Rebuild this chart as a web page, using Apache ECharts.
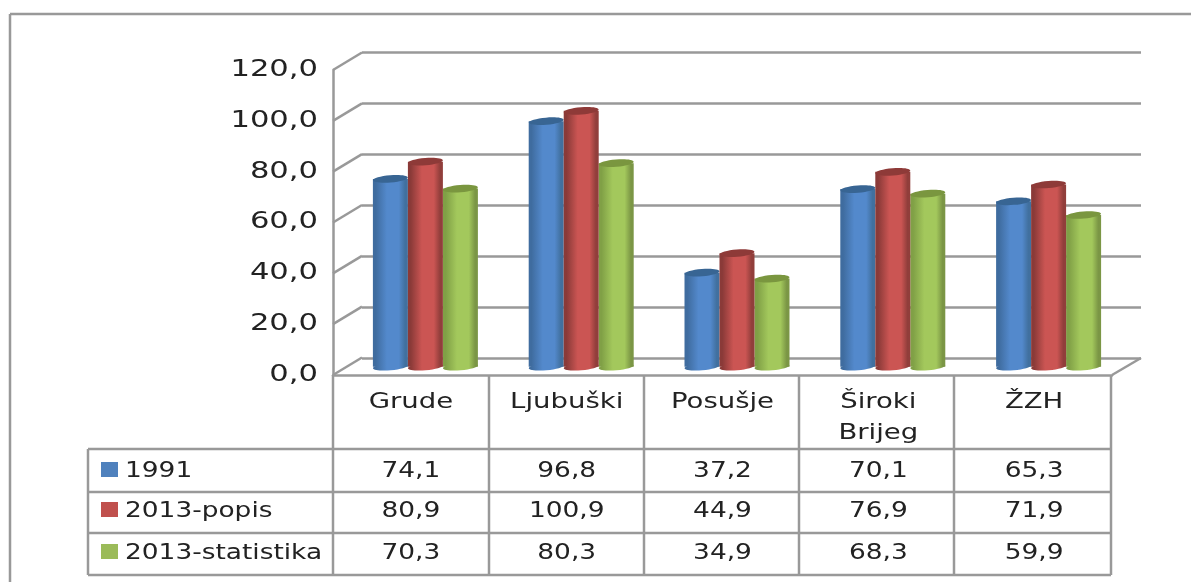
<!DOCTYPE html>
<html><head><meta charset="utf-8">
<style>html,body{margin:0;padding:0;background:#fff}#c{width:1191px;height:582px}</style>
<script src="https://cdn.jsdelivr.net/npm/echarts@6/dist/echarts.min.js"></script>
</head><body><div id="c"></div>
<script>
const categories = ['Grude','Ljubuški','Posušje','Široki\nBrijeg','ŽZH'];
const seriesNames = ['1991','2013-popis','2013-statistika'];
const v1991 = [74.1,96.8,37.2,70.1,65.3];
const vPopis = [80.9,100.9,44.9,76.9,71.9];
const vStat = [70.3,80.3,34.9,68.3,59.9];
const yTicks = [0,20,40,60,80,100,120];
const allValues = [v1991,vPopis,vStat];
const swatch = ['#4F81BD','#C0504D','#9BBB59'];
const palettes = [
  {edge:'#3f6c9f',mid:'#5389cc',right:'#41709f',top:'#386593'},
  {edge:'#8a3a38',mid:'#cb5553',right:'#913e3b',top:'#8e3a38'},
  {edge:'#80a046',mid:'#a3c85c',right:'#7b9645',top:'#7a963f'}
];
const LINE='#999999', TXT='#222', FONT='DejaVu Sans';
const DX=29, DY=-17.5, BW=35, RY=3.6, LW=2.5;
const rowY=[471,511,553];
const SX=1.2, F22='22px "DejaVu Sans"';
const fmt=v=>v.toFixed(1).replace('.',',');
const chart=echarts.init(document.getElementById('c'),null,{renderer:'canvas'});

function cyl(k){
  return function(params,api){
    const p=api.coord([api.value(0),api.value(1)]);
    const b=api.coord([api.value(0),0]);
    const cx=p[0]+DX/2+(k-1)*BW, top=p[1]+DY/2+1, bot=b[1]+DY/2+0.5;
    const c=palettes[k];
    const grad={type:'linear',x:0,y:0,x2:1,y2:0,colorStops:[
      {offset:0,color:c.edge},{offset:.08,color:c.edge},{offset:.4,color:c.mid},{offset:.74,color:c.mid},{offset:.92,color:c.right},{offset:1,color:c.right}]};
    return {type:'group',children:[
      {type:'ellipse',x:cx,y:bot,rotation:.08,shape:{cx:0,cy:0,rx:BW/2,ry:RY},style:{fill:grad}},
      {type:'rect',shape:{x:cx-BW/2,y:top,width:BW,height:bot-top},style:{fill:grad}},
      {type:'ellipse',x:cx,y:top,rotation:.08,shape:{cx:0,cy:0,rx:BW/2,ry:RY},style:{fill:c.top}}
    ]};
  };
}
const barSeries=allValues.map((vals,k)=>({
  type:'custom',name:seriesNames[k],xAxisIndex:0,yAxisIndex:0,clip:false,z:5+(k===1?1:0),
  renderItem:cyl(k),encode:{x:0,y:1},silent:true,
  data:vals.map((v,i)=>[i,v])
}));
const diag={type:'custom',xAxisIndex:0,yAxisIndex:0,clip:false,z:2,silent:true,
  renderItem(params,api){
    const v=api.value(0), y=api.coord([0,v])[1];
    return {type:'group',children:[
      {type:'line',shape:{x1:333,y1:y,x2:333+DX,y2:y+DY},style:{stroke:LINE,lineWidth:LW}},
      {type:'text',x:318,y:y,scaleX:1.33,style:{text:fmt(v),x:0,y:0,align:'right',verticalAlign:'middle',font:'23px "DejaVu Sans"',fill:TXT}}
    ]};
  },
  data:yTicks.map(t=>[t]),encode:{y:0}
};
const catSeries={type:'custom',xAxisIndex:0,yAxisIndex:0,clip:false,z:8,silent:true,
  renderItem(params,api){
    const i=api.value(0), x=api.coord([i,0])[0];
    return {type:'text',x:x,y:387,scaleX:SX+.05,style:{text:categories[i],x:0,y:0,align:'center',verticalAlign:'top',font:F22,lineHeight:31,fill:TXT}};
  },
  data:categories.map((c,i)=>[i]),encode:{x:0}
};
const cells=[];
allValues.forEach((vals,r)=>vals.forEach((v,i)=>cells.push([i,r,v])));
const cellSeries={type:'custom',xAxisIndex:0,yAxisIndex:0,clip:false,z:8,silent:true,
  renderItem(params,api){
    const x=api.coord([api.value(0),0])[0];
    return {type:'text',x:x,y:rowY[api.value(1)],scaleX:SX,style:{text:fmt(api.value(2)),x:0,y:0,align:'center',verticalAlign:'middle',font:F22,fill:TXT}};
  },
  data:cells,encode:{x:0}
};
const L=(x1,y1,x2,y2,w)=>({type:'line',shape:{x1,y1,x2,y2},style:{stroke:LINE,lineWidth:w||LW},z:3});
const g=[L(10,14,1191,14),L(10,14,10,582),L(1112,375,1141,358)];
[333,489,644,799,954,1111].forEach(x=>g.push(L(x,375,x,575)));
g.push(L(88,449,88,575));
[449,492,533,575].forEach(y=>g.push(L(88,y,1111,y)));
seriesNames.forEach((n,k)=>{
  g.push({type:'rect',shape:{x:101,y:rowY[k]-9,width:17,height:15},style:{fill:swatch[k]},z:4});
  g.push({type:'text',x:125,y:rowY[k],scaleX:SX,style:{text:n,x:0,y:0,verticalAlign:'middle',font:F22,fill:TXT},z:4});
});
chart.setOption({
  animation:false,backgroundColor:'#fff',
  textStyle:{fontFamily:FONT},
  grid:[
    {left:333,right:79,top:70,bottom:207},
    {left:362,right:50,top:52,bottom:224}
  ],
  xAxis:[
    {gridIndex:0,type:'category',data:categories,
      axisLine:{lineStyle:{color:LINE,width:LW}},axisTick:{show:false},axisLabel:{show:false}},
    {gridIndex:1,type:'category',data:categories,show:false}
  ],
  yAxis:[
    {gridIndex:0,type:'value',min:0,max:120,interval:20,
      axisLine:{show:true,lineStyle:{color:LINE,width:LW}},axisTick:{show:false},splitLine:{show:false},axisLabel:{show:false}},
    {gridIndex:1,type:'value',min:0,max:120,interval:20,
      axisLine:{show:false},axisTick:{show:false},axisLabel:{show:false},
      splitLine:{show:true,lineStyle:{color:LINE,width:LW}}}
  ],
  series:[diag,...barSeries,catSeries,cellSeries],
  graphic:g
});
</script></body></html>
